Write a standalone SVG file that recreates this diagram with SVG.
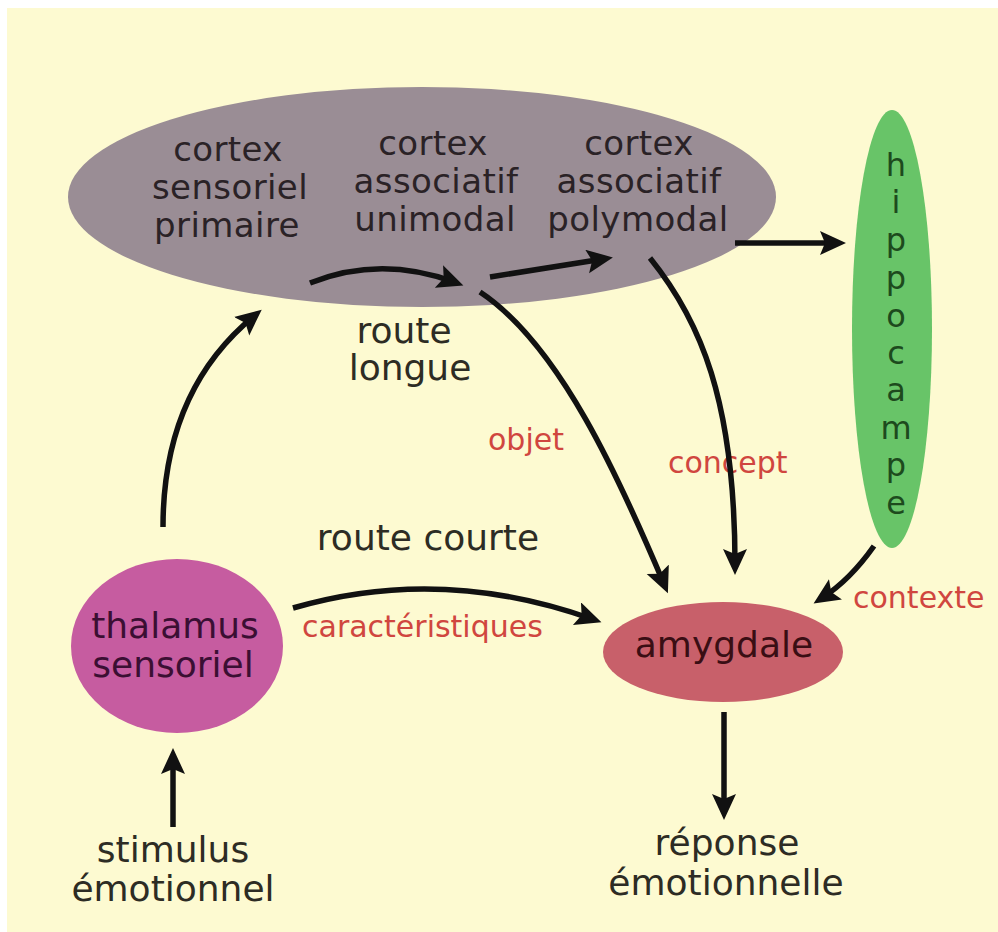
<svg xmlns="http://www.w3.org/2000/svg" width="998" height="932" viewBox="0 0 998 932">
  <style>
    text { font-family: "DejaVu Sans", Verdana, sans-serif; text-anchor: middle; }
    .lbl { font-size: 36px; fill: #2d2c24; }
    .ctx { font-size: 34px; fill: #2a2226; letter-spacing: 0.4px; }
    .tag { font-size: 30px; fill: #d0463f; text-anchor: start; }
    .hip { font-size: 32px; fill: #1d4a1d; }
    .wire { fill: none; stroke: #111; stroke-width: 5.5; marker-end: url(#head); }
  </style>
  <defs>
    <marker id="head" markerUnits="userSpaceOnUse" markerWidth="28" markerHeight="26" refX="16" refY="12" orient="auto">
      <path d="M0,0 L26,12 L0,24 L5,12 z" fill="#111"/>
    </marker>
  </defs>

  <!-- page -->
  <rect x="0" y="0" width="998" height="932" fill="#ffffff"/>
  <rect x="7" y="8" width="991" height="924" fill="#fdfad1"/>

  <!-- cortex -->
  <g id="cortex">
    <ellipse cx="422" cy="197" rx="354" ry="110" fill="#9a8d95"/>
    <text class="ctx" x="228" y="161">cortex</text>
    <text class="ctx" x="230" y="199">sensoriel</text>
    <text class="ctx" x="227" y="237">primaire</text>
    <text class="ctx" x="433" y="155">cortex</text>
    <text class="ctx" x="436" y="193">associatif</text>
    <text class="ctx" x="435" y="231">unimodal</text>
    <text class="ctx" x="639" y="155">cortex</text>
    <text class="ctx" x="639" y="193">associatif</text>
    <text class="ctx" x="638" y="231">polymodal</text>
  </g>

  <!-- hippocampe -->
  <g id="hippocampe">
    <ellipse cx="892" cy="329" rx="40" ry="219" fill="#68c468"/>
    <text class="hip" x="896" y="176">h</text>
    <text class="hip" x="896" y="213">i</text>
    <text class="hip" x="896" y="251">p</text>
    <text class="hip" x="896" y="289">p</text>
    <text class="hip" x="896" y="327">o</text>
    <text class="hip" x="896" y="364">c</text>
    <text class="hip" x="896" y="401">a</text>
    <text class="hip" x="896" y="439">m</text>
    <text class="hip" x="896" y="476">p</text>
    <text class="hip" x="896" y="514">e</text>
  </g>

  <!-- thalamus -->
  <g id="thalamus">
    <ellipse cx="177" cy="646" rx="106" ry="87" fill="#c65ca0"/>
    <text x="175" y="638" font-size="36" fill="#3b0f33">thalamus</text>
    <text x="173" y="677" font-size="36" fill="#3b0f33">sensoriel</text>
  </g>

  <!-- amygdale -->
  <g id="amygdale">
    <ellipse cx="723" cy="652" rx="120" ry="50" fill="#c8606a"/>
    <text x="724" y="657" font-size="36" fill="#3a0e14">amygdale</text>
  </g>

  <!-- input / output -->
  <g id="stimulus">
    <text class="lbl" x="173" y="862">stimulus</text>
    <text class="lbl" x="173" y="901">émotionnel</text>
  </g>
  <g id="reponse">
    <text class="lbl" x="727" y="855">réponse</text>
    <text class="lbl" x="726" y="895">émotionnelle</text>
  </g>

  <!-- route labels -->
  <g id="labels">
    <text class="lbl" x="404" y="343">route</text>
    <text class="lbl" x="410" y="380">longue</text>
    <text class="lbl" x="428" y="550">route courte</text>
    <text class="tag" x="302" y="637">caractéristiques</text>
    <text class="tag" x="488" y="450">objet</text>
    <text class="tag" x="668" y="473">concept</text>
    <text class="tag" x="853" y="608">contexte</text>
  </g>

  <!-- connectors -->
  <g id="connectors">
    <path class="wire" d="M173,827 L173,758"/>
    <path class="wire" d="M163,527 C163,430 198,362 254,316"/>
    <path class="wire" d="M310,283 Q380,255 454,282"/>
    <path class="wire" d="M490,277 L603,259"/>
    <path class="wire" d="M735,243 L836,243"/>
    <path class="wire" d="M480,292 C560,345 620,480 664,584"/>
    <path class="wire" d="M650,258 C700,320 735,400 735,565"/>
    <path class="wire" d="M874,546 Q850,580 822,598"/>
    <path class="wire" d="M293,608 Q440,565 592,619"/>
    <path class="wire" d="M724,712 L724,810"/>
  </g>
</svg>
